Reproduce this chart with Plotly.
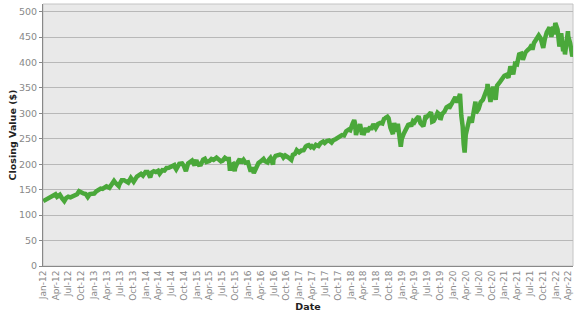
import plotly.graph_objects as go

dates = [
"2012-01-03","2012-01-15","2012-01-31","2012-02-15","2012-02-29","2012-03-15","2012-03-30","2012-04-10","2012-04-30",
"2012-05-15","2012-06-01","2012-06-15","2012-06-29","2012-07-15","2012-07-31","2012-08-15","2012-08-31","2012-09-14",
"2012-09-28","2012-10-15","2012-10-31","2012-11-15","2012-11-30","2012-12-15","2012-12-31",
"2013-01-15","2013-01-31","2013-02-15","2013-02-28","2013-03-15","2013-03-28","2013-04-18","2013-04-30","2013-05-21",
"2013-05-31","2013-06-24","2013-06-28","2013-07-15","2013-07-31","2013-08-15","2013-08-30","2013-09-18","2013-09-30",
"2013-10-08","2013-10-31","2013-11-15","2013-11-29","2013-12-13","2013-12-31",
"2014-01-15","2014-02-03","2014-02-14","2014-02-28","2014-03-15","2014-03-31","2014-04-11","2014-04-30","2014-05-15",
"2014-05-30","2014-06-15","2014-06-30","2014-07-24","2014-07-31","2014-08-07","2014-08-29","2014-09-18","2014-09-30",
"2014-10-15","2014-10-31","2014-11-15","2014-11-28","2014-12-16","2014-12-29","2014-12-31",
"2015-01-15","2015-01-30","2015-02-15","2015-02-27","2015-03-10","2015-03-31","2015-04-15","2015-04-30","2015-05-21",
"2015-05-29","2015-06-15","2015-06-29","2015-06-30","2015-07-20","2015-07-31","2015-08-17","2015-08-25","2015-08-31",
"2015-09-16","2015-09-28","2015-09-30","2015-10-15","2015-10-31","2015-11-03","2015-11-13","2015-11-30","2015-12-14",
"2015-12-31",
"2016-01-20","2016-01-29","2016-02-11","2016-02-29","2016-03-15","2016-03-31","2016-04-20","2016-04-29","2016-05-19",
"2016-05-31","2016-06-08","2016-06-27","2016-06-30","2016-07-15","2016-07-29","2016-08-15","2016-08-31","2016-09-09",
"2016-09-22","2016-09-30","2016-10-15","2016-11-04","2016-11-15","2016-11-30","2016-12-13","2016-12-30",
"2017-01-15","2017-01-31","2017-02-15","2017-02-28","2017-03-01","2017-03-22","2017-03-31","2017-04-13","2017-04-28",
"2017-05-17","2017-05-31","2017-06-19","2017-06-30","2017-07-15","2017-07-31","2017-08-18","2017-08-31","2017-09-15",
"2017-09-29","2017-10-16","2017-10-31","2017-11-15","2017-11-30","2017-12-18","2017-12-29",
"2018-01-15","2018-01-26","2018-01-31","2018-02-08","2018-02-26","2018-02-28","2018-03-09","2018-03-23","2018-03-31",
"2018-04-02","2018-04-18","2018-04-30","2018-05-15","2018-05-31","2018-06-12","2018-06-29","2018-07-15","2018-07-31",
"2018-08-15","2018-08-29","2018-08-31","2018-09-20","2018-09-28","2018-10-11","2018-10-29","2018-10-31","2018-11-07",
"2018-11-20","2018-11-30","2018-12-03","2018-12-24","2018-12-31",
"2019-01-15","2019-01-31","2019-02-15","2019-02-28","2019-03-08","2019-03-21","2019-03-31","2019-04-15","2019-04-30",
"2019-05-13","2019-05-31","2019-06-03","2019-06-20","2019-06-28","2019-07-26","2019-07-31","2019-08-05","2019-08-15",
"2019-08-30","2019-09-12","2019-09-30","2019-10-02","2019-10-15","2019-10-31","2019-11-15","2019-11-29","2019-12-03",
"2019-12-31",
"2020-01-17","2020-01-31","2020-02-19","2020-02-28","2020-03-09","2020-03-16","2020-03-23","2020-03-31","2020-04-15",
"2020-04-29","2020-04-30","2020-05-13","2020-05-29","2020-06-08","2020-06-11","2020-06-30","2020-07-15","2020-07-31",
"2020-08-14","2020-08-31","2020-09-02","2020-09-23","2020-09-30","2020-10-12","2020-10-30","2020-11-09","2020-11-30",
"2020-12-15","2020-12-31",
"2021-01-15","2021-01-29","2021-02-12","2021-02-26","2021-03-04","2021-03-17","2021-03-31","2021-04-15","2021-04-30",
"2021-05-12","2021-05-31","2021-06-15","2021-06-30","2021-07-15","2021-07-19","2021-07-30","2021-08-15","2021-08-31",
"2021-09-02","2021-09-15","2021-09-30","2021-10-04","2021-10-15","2021-10-29","2021-11-18","2021-11-30","2021-12-01",
"2021-12-15","2021-12-20","2021-12-29","2021-12-31",
"2022-01-03","2022-01-14","2022-01-27","2022-01-31","2022-02-09","2022-02-23","2022-02-28","2022-03-08","2022-03-29",
"2022-03-31","2022-04-14","2022-04-29","2022-05-02",
]

closes = [
127.5,129.5,131.3,134.5,137.0,140.3,140.8,135.9,139.9,
133.5,127.7,134.0,136.1,135.0,137.7,140.6,141.0,147.0,
144.0,142.5,141.4,135.4,141.5,141.9,142.4,
146.9,149.7,152.1,151.6,156.0,156.7,153.7,159.7,167.2,
163.5,157.1,160.4,168.5,168.7,165.8,163.7,173.1,168.0,
165.5,175.8,180.0,181.0,177.5,184.7,
184.7,174.2,184.0,186.3,184.7,187.0,181.5,188.3,187.7,
192.7,193.0,195.7,198.2,193.1,190.0,200.7,201.6,197.0,
186.4,201.7,204.8,207.2,197.9,208.7,205.5,
199.0,199.5,209.0,210.7,204.4,206.4,210.4,208.5,213.0,
211.1,207.5,204.0,205.9,212.6,210.5,210.5,187.3,197.7,
200.2,186.3,191.6,201.9,207.9,210.4,202.5,208.7,202.9,
203.9,
185.7,193.7,182.9,193.6,202.4,205.5,210.3,206.3,203.6,
209.8,212.4,199.6,209.5,216.4,217.1,219.1,217.4,213.3,
217.2,216.3,213.1,208.6,218.3,220.4,227.8,223.5,
227.0,227.5,234.9,236.5,239.8,233.7,235.7,232.5,238.1,
235.8,241.4,244.7,241.8,245.6,246.8,242.7,247.5,249.2,
251.2,255.3,257.2,256.4,265.0,268.2,266.9,
280.0,286.6,281.9,257.6,277.4,271.7,278.9,258.1,263.2,
257.5,271.2,264.5,271.1,270.9,279.0,271.3,279.0,281.3,
280.0,291.0,290.3,293.6,290.7,272.2,259.0,270.6,281.0,
264.1,275.7,279.3,234.3,249.9,
260.4,270.0,277.4,278.7,274.5,284.7,282.5,289.4,294.0,
280.9,275.3,274.6,295.9,293.0,302.0,297.4,283.8,285.0,
292.5,301.3,296.8,287.0,298.9,303.3,311.8,314.3,309.6,
321.9,
331.9,321.7,338.3,296.3,274.2,239.9,222.95,257.8,277.8,
293.2,290.5,281.6,304.3,323.2,300.6,308.4,321.9,326.5,
336.8,349.3,357.7,322.6,334.9,352.4,326.5,354.6,362.1,
369.6,373.9,
375.7,370.1,392.6,380.4,376.7,397.3,396.3,415.9,417.3,
405.4,420.0,424.5,428.1,434.8,425.0,438.5,447.0,451.6,
453.2,447.9,429.1,428.6,445.9,459.3,469.1,455.6,450.5,
470.6,455.0,477.5,475.0,
477.7,464.7,431.2,449.9,457.5,422.0,436.6,416.0,461.6,
451.6,437.8,412.0,414.5,
]

tick_vals = ["2012-01-01","2012-04-01","2012-07-01","2012-10-01",
             "2013-01-01","2013-04-01","2013-07-01","2013-10-01",
             "2014-01-01","2014-04-01","2014-07-01","2014-10-01",
             "2015-01-01","2015-04-01","2015-07-01","2015-10-01",
             "2016-01-01","2016-04-01","2016-07-01","2016-10-01",
             "2017-01-01","2017-04-01","2017-07-01","2017-10-01",
             "2018-01-01","2018-04-01","2018-07-01","2018-10-01",
             "2019-01-01","2019-04-01","2019-07-01","2019-10-01",
             "2020-01-01","2020-04-01","2020-07-01","2020-10-01",
             "2021-01-01","2021-04-01","2021-07-01","2021-10-01",
             "2022-01-01","2022-04-01"]
tick_text = ["Jan-12","Apr-12","Jul-12","Oct-12","Jan-13","Apr-13","Jul-13","Oct-13",
             "Jan-14","Apr-14","Jul-14","Oct-14","Jan-15","Apr-15","Jul-15","Oct-15",
             "Jan-16","Apr-16","Jul-16","Oct-16","Jan-17","Apr-17","Jul-17","Oct-17",
             "Jan-18","Apr-18","Jul-18","Oct-18","Jan-19","Apr-19","Jul-19","Oct-19",
             "Jan-20","Apr-20","Jul-20","Oct-20","Jan-21","Apr-21","Jul-21","Oct-21",
             "Jan-22","Apr-22"]
y_ticks = [0, 50, 100, 150, 200, 250, 300, 350, 400, 450, 500]

fig = go.Figure()
fig.add_trace(go.Scatter(
    x=dates, y=closes, mode="lines",
    line=dict(color="#4aa83a", width=4.5),
    hoverinfo="x+y",
))

font_family = "DejaVu Sans, Verdana, sans-serif"
fig.update_layout(
    width=577, height=315,
    margin=dict(l=43, r=4, t=4, b=49),
    paper_bgcolor="white",
    plot_bgcolor="#e9e9e9",
    showlegend=False,
    font=dict(family=font_family, size=10, color="#888888"),
    xaxis=dict(
        range=["2012-01-01", "2022-05-04"],
        tickmode="array", tickvals=tick_vals, ticktext=tick_text,
        tickangle=-90,
        tickfont=dict(size=9, color="#888888"),
        ticks="",
        showgrid=False, zeroline=False,
        showline=True, linecolor="#888888", linewidth=1,
        automargin=False,
        title=dict(text="<b>Date</b>", font=dict(size=9.5, color="#222222"), standoff=3),
    ),
    yaxis=dict(
        range=[0, 515],
        tickmode="array", tickvals=y_ticks,
        tickfont=dict(size=9.5, color="#888888"),
        ticks="outside", ticklen=3, tickcolor="#888888",
        showgrid=True, gridcolor="#b8b8b8", gridwidth=1,
        zeroline=False,
        showline=True, linecolor="#888888", linewidth=1,
        automargin=False,
        title=dict(text="<b>Closing Value ($)</b>", font=dict(size=9.5, color="#222222"), standoff=0),
    ),
    shapes=[dict(type="rect", xref="paper", yref="paper", x0=0, y0=0, x1=1, y1=1,
                 line=dict(color="#c4c4c4", width=1), layer="below")],
)

fig.write_html("out.html")
